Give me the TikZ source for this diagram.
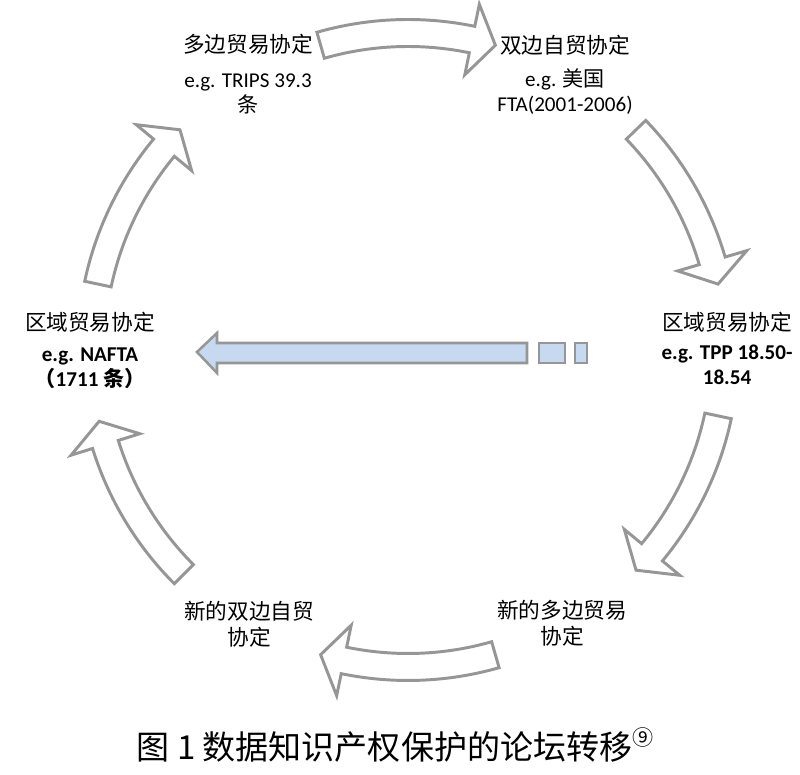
\documentclass[tikz,border=0pt]{standalone}
\usepackage{fontspec}
\setmainfont{Carlito}
\newfontfamily\cjk{Noto Sans CJK SC}
\usepackage{xcolor}
\usetikzlibrary{positioning}

\definecolor{ringgray}{RGB}{150,150,150}
\definecolor{barblue}{RGB}{198,217,240}

% hollow curved arrow on the ring, #1 = tail angle, #2 = tip angle
\newcommand{\ringarrow}[2]{%
  \draw[hollow] (#1:8.2625) arc[start angle=#1, end angle={#2+4.34}, radius=8.2625]
    -- ({#2+4.34}:8.825) -- (#2:7.925) -- ({#2+4.34}:7.025) -- ({#2+4.34}:7.5875)
    arc[start angle={#2+4.34}, end angle=#1, radius=7.5875] -- cycle;}

\begin{document}
\begin{tikzpicture}[
    title/.style={font=\cjk\fontsize{15.4}{18.5}\selectfont, align=center, inner sep=0pt},
    detail/.style={font=\fontsize{15}{17.8}\selectfont, align=center, inner sep=0pt},
    caption/.style={font=\cjk\fontsize{23.5}{28}\selectfont, inner sep=0pt},
    hollow/.style={draw=ringgray, line width=2.1pt, fill=white, line join=miter},
    bluebar/.style={draw=ringgray, line width=1.8pt, fill=barblue}
]
\useasboundingbox (0,0) rectangle (20,19.375);

% ring of arrows
\begin{scope}[shift={(10.2,10.625)}]
\ringarrow{106}{74}
\ringarrow{44}{12}
\ringarrow{-12}{-44}
\ringarrow{-74}{-106}
\ringarrow{-135}{-167}
\ringarrow{168}{136}
\end{scope}

% shortcut back to the regional level
\draw[bluebar] (4.925,10.575) -- (5.425,11.05) -- (5.425,10.8) -- (13.175,10.8)
    -- (13.175,10.3) -- (5.425,10.3) -- (5.425,10.05) -- cycle;
\draw[bluebar] (13.475,10.3) rectangle (14.125,10.8);
\draw[bluebar] (14.375,10.3) rectangle (14.675,10.8);

% forums
\node[title] (multi) at (6.2,18.275) {多边贸易协定};
\node[detail] (multidet) at (6.2,17.0375) {e.g. TRIPS 39.3\\{\cjk 条}};

\node[title] (bilat) at (14.125,18.25) {双边自贸协定};
\node[detail] (bilatdet) at (14.125,17.0875) {e.g. {\cjk 美国}\\FTA(2001-2006)};

\node[title] (regright) at (18.175,11.325) {区域贸易协定};
\node[detail, font=\bfseries\fontsize{15}{17.8}\selectfont] (regrightdet) at (18.175,10.25) {e.g. TPP 18.50-\\18.54};

\node[title] (regleft) at (2.25,11.325) {区域贸易协定};
\node[detail, font=\bfseries\fontsize{15}{17.8}\selectfont] (regleftdet) at (2.25,10.175) {e.g. NAFTA\\{\cjk （}1711 {\cjk 条）}};

\node[title] (newbi) at (6.225,3.775) {新的双边自贸\\协定};
\node[title] (newmulti) at (14.05,3.8) {新的多边贸易\\协定};

\node[caption] (cap) at (9.875,0.75) {图 1 数据知识产权保护的论坛转移\raisebox{0.45em}{\fontsize{15}{15}\selectfont ⑨}};

\end{tikzpicture}
\end{document}
